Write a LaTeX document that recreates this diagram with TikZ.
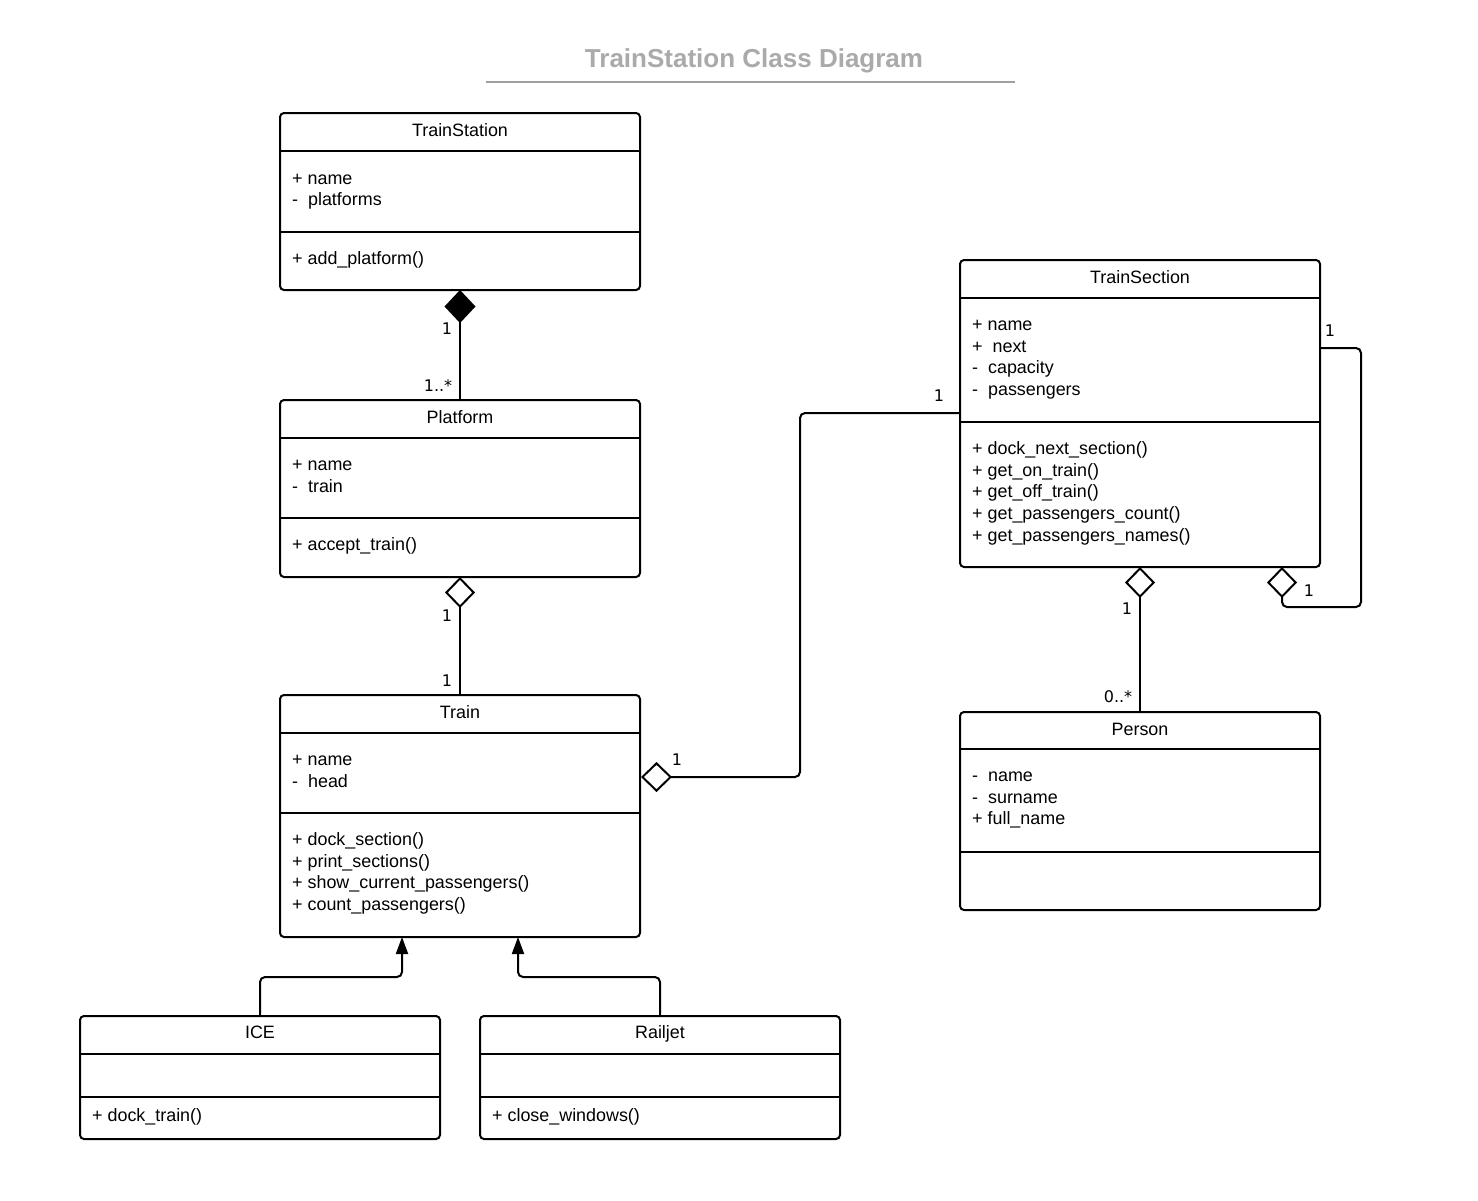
\documentclass[tikz,border=0pt]{standalone}
\usepackage{fontspec}
\setmainfont{Liberation Sans}
\newfontfamily\lblfont{DejaVu Sans}
\usetikzlibrary{arrows.meta,calc}
\definecolor{titlegray}{RGB}{170,170,170}
\definecolor{rulegray}{RGB}{160,160,160}
\newcommand\clslines[4]{%
  \foreach \t [count=\i from 0] in {#4} {\node[txt] (#1-\i) at ({#2},{#3+21.7*\i}) {\t};}}
\begin{document}
\begin{tikzpicture}[x=1pt,y=-1pt,
  cls/.style={draw,line width=2pt,rounded corners=4pt,anchor=north west,minimum width=360pt,inner sep=0pt,outer sep=0pt},
  div/.style={line width=2pt},
  txt/.style={anchor=base west,inner sep=0pt,font=\fontsize{17.9}{21.7}\selectfont},
  ttl/.style={anchor=base,inner sep=0pt,font=\fontsize{17.9}{21.7}\selectfont},
  lbl/.style={inner sep=0pt,font=\lblfont\fontsize{16}{19}\selectfont},
  conn/.style={line width=2pt},
  comp/.style={{Diamond[length=33pt,width=31pt,fill=black]}-},
  aggr/.style={{Diamond[open,length=31pt,width=30pt]}-},
  gen/.style={-{Triangle[length=17pt,width=12pt]}}]
\useasboundingbox (0,0) rectangle (1478,1200);
\fill[white] (0,0) rectangle (1478,1200);

% title
\node[anchor=base,inner sep=0pt,text=titlegray,font=\bfseries\fontsize{26}{30}\selectfont] (title) at (754,67) {TrainStation Class Diagram};
\draw[rulegray,line width=2pt] (486,82) -- (1015,82);

% TrainStation
\node[cls,minimum height=177pt] (TS) at (280,113) {};
\draw[div] (280,151) -- (640,151);
\draw[div] (280,232) -- (640,232);
\node[ttl] (TS-t) at (460,136) {TrainStation};
\clslines{TSa}{292}{184}{+ name,-\ \ platforms}
\clslines{TSm}{292}{264}{+ add\_platform()}

% Platform
\node[cls,minimum height=177pt] (PF) at (280,400) {};
\draw[div] (280,438) -- (640,438);
\draw[div] (280,518) -- (640,518);
\node[ttl] (PF-t) at (460,423) {Platform};
\clslines{PFa}{292}{470.5}{+ name,-\ \ train}
\clslines{PFm}{292}{550.5}{+ accept\_train()}

% Train
\node[cls,minimum height=242pt] (TR) at (280,695) {};
\draw[div] (280,733) -- (640,733);
\draw[div] (280,813) -- (640,813);
\node[ttl] (TR-t) at (460,718) {Train};
\clslines{TRa}{292}{765.5}{+ name,-\ \ head}
\clslines{TRm}{292}{845.5}{+ dock\_section(),+ print\_sections(),+ show\_current\_passengers(),+ count\_passengers()}

% TrainSection
\node[cls,minimum height=307pt] (SE) at (960,260) {};
\draw[div] (960,298) -- (1320,298);
\draw[div] (960,422) -- (1320,422);
\node[ttl] (SE-t) at (1140,283) {TrainSection};
\clslines{SEa}{972}{330.5}{+ name,+\ \ next,-\ \ capacity,-\ \ passengers}
\clslines{SEm}{972}{454.5}{+ dock\_next\_section(),+ get\_on\_train(),+ get\_off\_train(),+ get\_passengers\_count(),+ get\_passengers\_names()}

% Person
\node[cls,minimum height=198pt] (PE) at (960,712) {};
\draw[div] (960,749) -- (1320,749);
\draw[div] (960,852) -- (1320,852);
\node[ttl] (PE-t) at (1140,735) {Person};
\clslines{PEa}{972}{781.5}{-\ \ name,-\ \ surname,+ full\_name}

% ICE
\node[cls,minimum height=123pt] (ICE) at (80,1016) {};
\draw[div] (80,1054) -- (440,1054);
\draw[div] (80,1097) -- (440,1097);
\node[ttl] (ICE-t) at (260,1038) {ICE};
\clslines{ICEm}{92}{1121}{+ dock\_train()}

% Railjet
\node[cls,minimum height=123pt] (RJ) at (480,1016) {};
\draw[div] (480,1054) -- (840,1054);
\draw[div] (480,1097) -- (840,1097);
\node[ttl] (RJ-t) at (660,1038) {Railjet};
\clslines{RJm}{492}{1121}{+ close\_windows()}

% connectors
\draw[conn,comp] (TS.south) -- (PF.north);
\draw[conn,aggr] (PF.south) -- (TR.north);
\coordinate (trR) at (641,777);
\draw[conn,aggr,rounded corners=5pt] (trR) -- (800,777) -- (800,413) -- (SE.west |- 0,413);
\draw[conn,aggr] (SE.south) -- (PE.north);
\coordinate (seB) at (1282,567);
\draw[conn,aggr,rounded corners=5pt] (seB) -- (1282,607) -- (1361,607) -- (1361,348) -- (SE.east |- 0,348);
\draw[conn,gen,rounded corners=5pt] (ICE.north) -- (260,977) -- (402,977) -- (TR.south -| 402,0);
\draw[conn,gen,rounded corners=5pt] (RJ.north) -- (660,977) -- (518,977) -- (TR.south -| 518,0);

% multiplicities
\node[lbl] (m1) at (447,329) {1};
\node[lbl] (m2) at (438,386) {1..*};
\node[lbl] (m3) at (447,616) {1};
\node[lbl] (m4) at (447,681) {1};
\node[lbl] (m5) at (677,760) {1};
\node[lbl] (m6) at (939,396) {1};
\node[lbl] (m7) at (1127,609) {1};
\node[lbl] (m8) at (1118,697) {0..*};
\node[lbl] (m9) at (1330,331) {1};
\node[lbl] (m10) at (1309,591) {1};
\end{tikzpicture}
\end{document}
